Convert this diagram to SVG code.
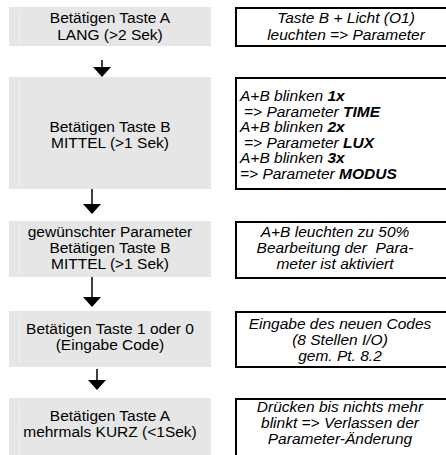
<svg xmlns="http://www.w3.org/2000/svg" width="446" height="455" viewBox="0 0 446 455">
<defs>
<style>
.step{fill:#e6e6e6;stroke:none}
.seam{stroke:#f1f1f1;stroke-width:1}
.note{fill:#fff;stroke:#000;stroke-width:2}
.lt{font-family:"Liberation Sans",Arial,sans-serif;font-size:15.5px;fill:#000;text-anchor:middle}
.rt{font-family:"Liberation Sans",Arial,sans-serif;font-size:15.5px;font-style:italic;fill:#000}
.c{text-anchor:middle}
.b{font-weight:bold}
.con{stroke:#000;stroke-width:1.5;fill:none}
.head{fill:#000}
</style>
</defs>
<rect width="446" height="455" fill="#fff"/>

<g id="step1">
<rect class="step" x="9" y="7" width="202" height="39"/>
<line class="seam" x1="19.5" y1="10" x2="19.5" y2="43"/>
<text class="lt" x="110" y="23">Betätigen Taste A</text>
<text class="lt" x="110" y="40">LANG (&gt;2 Sek)</text>
</g>

<g id="note1">
<rect class="note" x="236" y="8" width="230" height="38"/>
<text class="rt c" x="346" y="23">Taste B + Licht (O1)</text>
<text class="rt c" x="346" y="40">leuchten =&gt; Parameter</text>
</g>

<g id="step2">
<rect class="step" x="9" y="77" width="202" height="112"/>
<line class="seam" x1="19.5" y1="80" x2="19.5" y2="186"/>
<text class="lt" x="110" y="132">Betätigen Taste B</text>
<text class="lt" x="110" y="148">MITTEL (&gt;1 Sek)</text>
</g>

<g id="note2">
<rect class="note" x="236" y="78" width="230" height="111"/>
<text class="rt" x="240" y="101">A+B blinken <tspan class="b">1x</tspan></text>
<text class="rt" x="244" y="116.5">=&gt; Parameter <tspan class="b">TIME</tspan></text>
<text class="rt" x="240" y="132">A+B blinken <tspan class="b">2x</tspan></text>
<text class="rt" x="244" y="147.5">=&gt; Parameter <tspan class="b">LUX</tspan></text>
<text class="rt" x="240" y="163">A+B blinken <tspan class="b">3x</tspan></text>
<text class="rt" x="240" y="178.5">=&gt; Parameter <tspan class="b">MODUS</tspan></text>
</g>

<g id="step3">
<rect class="step" x="9" y="221" width="202" height="56"/>
<line class="seam" x1="19.5" y1="224" x2="19.5" y2="274"/>
<text class="lt" x="110" y="237">gewünschter Parameter</text>
<text class="lt" x="110" y="253">Betätigen Taste B</text>
<text class="lt" x="110" y="269">MITTEL (&gt;1 Sek)</text>
</g>

<g id="note3">
<rect class="note" x="236" y="222" width="230" height="56"/>
<text class="rt c" x="335" y="237">A+B leuchten zu 50%</text>
<text class="rt c" x="335" y="253" xml:space="preserve">Bearbeitung der  Para-</text>
<text class="rt c" x="335" y="269">meter ist aktiviert</text>
</g>

<g id="step4">
<rect class="step" x="9" y="311" width="202" height="56"/>
<line class="seam" x1="19.5" y1="314" x2="19.5" y2="364"/>
<text class="lt" x="110" y="334">Betätigen Taste 1 oder 0</text>
<text class="lt" x="110" y="350">(Eingabe Code)</text>
</g>

<g id="note4">
<rect class="note" x="236" y="312" width="230" height="55"/>
<text class="rt c" x="340" y="329">Eingabe des neuen Codes</text>
<text class="rt c" x="340" y="345">(8 Stellen I/O)</text>
<text class="rt c" x="340" y="361">gem. Pt. 8.2</text>
</g>

<g id="step5">
<rect class="step" x="9" y="398" width="202" height="70"/>
<line class="seam" x1="19.5" y1="401" x2="19.5" y2="455"/>
<text class="lt" x="110" y="421">Betätigen Taste A</text>
<text class="lt" x="110" y="437">mehrmals KURZ (&lt;1Sek)</text>
</g>

<g id="note5">
<rect class="note" x="236" y="399" width="230" height="70"/>
<text class="rt c" x="340" y="412">Drücken bis nichts mehr</text>
<text class="rt c" x="340" y="428">blinkt =&gt; Verlassen der</text>
<text class="rt c" x="340" y="444">Parameter-Änderung</text>
</g>

<g id="connectors">
<line class="con" x1="102" y1="60" x2="102" y2="68"/>
<polygon class="head" points="93,67 111,67 102,77"/>
<line class="con" x1="92" y1="189" x2="92" y2="205"/>
<polygon class="head" points="83,204 101,204 92,214"/>
<line class="con" x1="92" y1="277" x2="92" y2="298"/>
<polygon class="head" points="83,297 101,297 92,307"/>
<line class="con" x1="97" y1="369" x2="97" y2="381"/>
<polygon class="head" points="88,380 106,380 97,390"/>
</g>
</svg>
